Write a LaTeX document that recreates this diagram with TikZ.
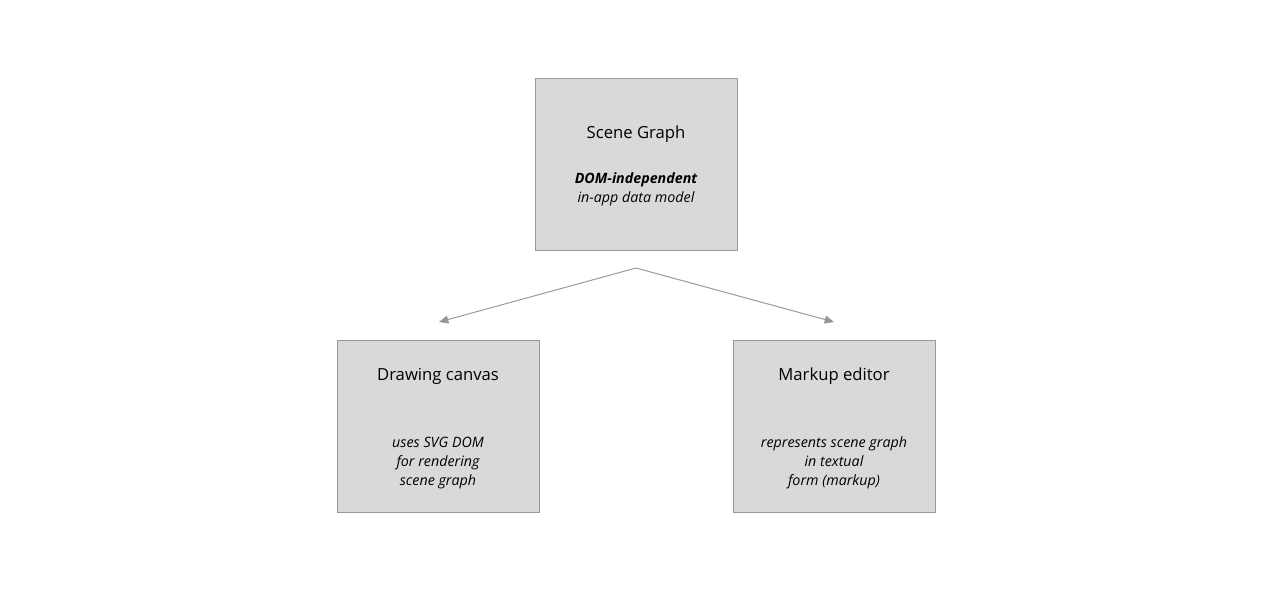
\documentclass[tikz,border=0pt]{standalone}
\usepackage{fontspec}
\setmainfont{Open Sans}
\usetikzlibrary{arrows.meta, positioning}
\definecolor{BoxGrey}{RGB}{217, 217, 217}
\definecolor{EdgeGrey}{RGB}{153, 153, 153}
\definecolor{LinkGrey}{RGB}{150, 150, 150}

\begin{document}
\begin{tikzpicture}[
    x=0.75pt, y=-0.75pt,
    >={Triangle[length=7pt, width=6pt]},
    % Define styles for the elements
    part box/.style={
        rectangle,
        draw=EdgeGrey,          % Mid grey outline
        fill=BoxGrey,           % Light grey fill
        line width=0.6pt,
        minimum width=151.5pt,
        minimum height=129pt
    },
    part title/.style={
        font=\fontsize{12.5}{14}\selectfont,
        text=black
    },
    part note/.style={
        font=\fontsize{10.7}{14.2}\selectfont\itshape,
        align=center,
        text=black
    },
    link line/.style={
        ->,
        color=LinkGrey,
        line width=0.7pt
    }
]

    % --- Canvas (fixes the margins) ---
    \useasboundingbox (0,0) rectangle (1272,590);

    % --- Scene Graph ---
    \node[part box] (scene) at (636, 164) {};
    \node[part title] (sceneTitle) at (636, 134) {Scene Graph};
    \node[part note] (sceneNote) at (636, 189) {\textbf{DOM-independent}\\in-app data model};

    % --- Drawing canvas ---
    \node[part box] (canvas) at (438, 426) {};
    \node[part title] (canvasTitle) at (438, 376) {Drawing canvas};
    \node[part note] (canvasNote) at (438, 463) {uses SVG DOM\\for rendering\\scene graph};

    % --- Markup editor ---
    \node[part box] (markup) at (834, 426) {};
    \node[part title] (markupTitle) at (834, 376) {Markup editor};
    \node[part note] (markupNote) at (834, 463) {represents scene graph\\in textual\\form (markup)};

    % --- Connections ---
    \coordinate (fork) at (636, 268);
    \coordinate (canvasIn) at (439, 322);
    \coordinate (markupIn) at (834, 322);
    \draw[link line] (fork) -- (canvasIn);
    \draw[link line] (fork) -- (markupIn);

\end{tikzpicture}
\end{document}
